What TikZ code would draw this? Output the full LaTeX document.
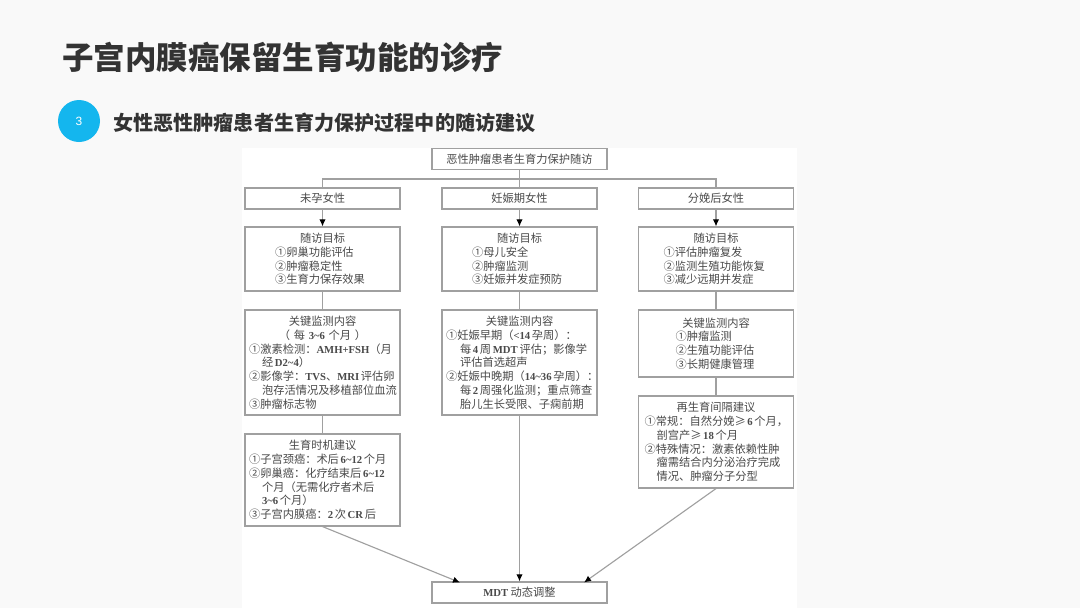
\documentclass[tikz,border=0pt]{standalone}
\usepackage{fontspec}
\setmainfont{Noto Sans CJK SC}
\newfontfamily\latn[Scale=0.95]{Liberation Serif}
\newfontfamily\numf{Liberation Sans}
\usepackage{xcolor}
\usetikzlibrary{arrows.meta}
\usetikzlibrary{positioning}
\definecolor{linegray}{HTML}{A0A0A0}
\definecolor{textgray}{HTML}{4A4A4A}
\definecolor{headdark}{HTML}{333333}
\definecolor{slidebg}{HTML}{F9F9F9}
\definecolor{badgeblue}{HTML}{14B6EE}
\newlength{\pxu}\setlength{\pxu}{0.025cm}
\newcommand{\lat}[1]{{\latn\bfseries #1}}
\newcommand{\ttl}[1]{\makebox[\hsize]{#1}}
\newcommand{\lne}[2]{\makebox[\hsize][l]{\spaceskip=0.15em\relax\hspace*{#1\pxu}#2}}
\tikzset{
  box/.style={draw=linegray,line width=0.8pt,text=textgray,inner sep=0pt,align=left,font=\fontsize{8}{9.8}\selectfont},
  wide/.style={box,minimum width=155\pxu,text width=155\pxu},
  flat/.style={box,align=center,minimum height=21\pxu},
  link/.style={draw=linegray,line width=0.8pt},
  tolink/.style={link,-{Latex[length=5pt,width=4.5pt,black]}},
}
\begin{document}
\begin{tikzpicture}[x=0.025cm,y=-0.025cm]
\useasboundingbox (0,0) rectangle (1080,608);
\fill[slidebg] (0,0) rectangle (1080,608);
\fill[white] (242,148) rectangle (797,608);
\node[anchor=west,inner sep=0pt,text=headdark,font=\fontsize{22.4}{26}\selectfont\bfseries](title) at(62,57){子宫内膜癌保留生育功能的诊疗};
\node[circle,fill=badgeblue,text=white,inner sep=0pt,minimum size=42\pxu,font=\numf\fontsize{8.5}{10}\selectfont](badge) at(79,121){3};
\node[anchor=west,inner sep=0pt,text=headdark,font=\fontsize{14.3}{17}\selectfont\bfseries](sub) at(113,123){女性恶性肿瘤患者生育力保护过程中的随访建议};
\node[flat,minimum width=175\pxu](top) at(519.5,159){恶性肿瘤患者生育力保护随访};
\node[flat,minimum width=155\pxu](h1) at(322.5,198.5){未孕女性};
\node[flat,minimum width=155\pxu](h2) at(519.5,198.5){妊娠期女性};
\node[flat,minimum width=155\pxu](h3) at(716,198.5){分娩后女性};
\node[wide,minimum height=64\pxu](g1) at(322.5,259){\ttl{随访目标}\\\lne{30}{①卵巢功能评估}\\\lne{30}{②肿瘤稳定性}\\\lne{30}{③生育力保存效果}};
\node[wide,minimum height=64\pxu](g2) at(519.5,259){\ttl{随访目标}\\\lne{30}{①母儿安全}\\\lne{30}{②肿瘤监测}\\\lne{30}{③妊娠并发症预防}};
\node[wide,minimum height=64\pxu](g3) at(716,259){\ttl{随访目标}\\\lne{25}{①评估肿瘤复发}\\\lne{25}{②监测生殖功能恢复}\\\lne{25}{③减少远期并发症}};
\node[wide,minimum height=105\pxu](k1) at(322.5,362.5){\ttl{关键监测内容}\\\ttl{（ 每 \lat{3\char`~6} 个月 ）}\\\lne{4}{①激素检测：\lat{AMH+FSH}（月}\\\lne{17}{经 \lat{D2\char`~4}）}\\\lne{4}{②影像学：\lat{TVS}、\lat{MRI} 评估卵}\\\lne{17}{泡存活情况及移植部位血流}\\\lne{4}{③肿瘤标志物}};
\node[wide,minimum height=105\pxu](k2) at(519.5,362.5){\ttl{关键监测内容}\\\lne{4}{①妊娠早期（\lat{<14} 孕周）：}\\\lne{18}{每 \lat{4} 周 \lat{MDT} 评估；影像学}\\\lne{18}{评估首选超声}\\\lne{4}{②妊娠中晚期（\lat{14\char`~36} 孕周）：}\\\lne{18}{每 \lat{2} 周强化监测；重点筛查}\\\lne{18}{胎儿生长受限、子痫前期}};
\node[wide,minimum height=67\pxu](k3) at(716,343.5){\ttl{关键监测内容}\\\lne{37}{①肿瘤监测}\\\lne{37}{②生殖功能评估}\\\lne{37}{③长期健康管理}};
\node[wide,minimum height=92\pxu](t1) at(322.5,480){\ttl{生育时机建议}\\\lne{4}{①子宫颈癌：术后 \lat{6\char`~12} 个月}\\\lne{4}{②卵巢癌：化疗结束后 \lat{6\char`~12}}\\\lne{17}{个月（无需化疗者术后}\\\lne{17}{\lat{3\char`~6} 个月）}\\\lne{4}{③子宫内膜癌：\lat{2} 次 \lat{CR} 后}};
\node[wide,minimum height=92\pxu](t3) at(716,442){\ttl{再生育间隔建议}\\\lne{6}{①常规：自然分娩≥ \lat{6} 个月，}\\\lne{18}{剖宫产≥ \lat{18} 个月}\\\lne{6}{②特殊情况：激素依赖性肿}\\\lne{18}{瘤需结合内分泌治疗完成}\\\lne{18}{情况、肿瘤分子分型}};
\node[flat,minimum width=175\pxu](mdt) at(519.5,592.5){\lat{MDT} 动态调整};
\coordinate(bus) at(519.5,179);
\coordinate(inl) at(460,582.5); \coordinate(inr) at(584,582.5);
\draw[link](top.south)--(bus); \draw[link](bus)--(h2.north);
\draw[link](h1.north)|-(bus)-|(h3.north);
\draw[tolink](h1)--(g1); \draw[tolink](h2)--(g2); \draw[tolink](h3)--(g3);
\draw[link](g1)--(k1); \draw[link](g2)--(k2); \draw[link](g3)--(k3);
\draw[link](k1)--(t1); \draw[link](k3)--(t3);
\draw[tolink](t1.south)--(inl); \draw[tolink](k2.south)--(mdt.north); \draw[tolink](t3.south)--(inr);
\end{tikzpicture}
\end{document}
